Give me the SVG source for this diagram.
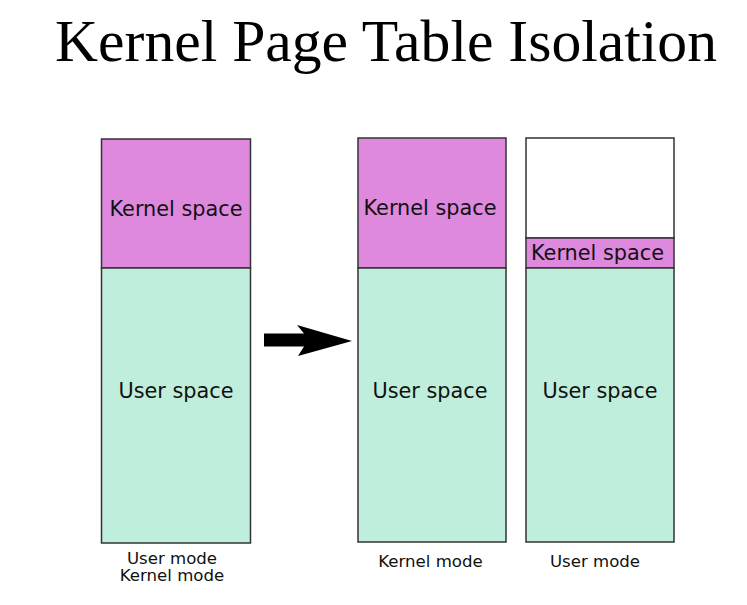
<svg xmlns="http://www.w3.org/2000/svg" width="747" height="605" viewBox="0 0 747 605">
<style>
.k{fill:#de88de;stroke:#333;stroke-width:1.5}
.u{fill:#c0eedd;stroke:#333;stroke-width:1.5}
.w{fill:#fff;stroke:#333;stroke-width:1.5}
.lbl{font-family:"DejaVu Sans",Verdana,sans-serif;font-size:20.8px;fill:#111;text-anchor:middle}
.cap{font-family:"DejaVu Sans",Verdana,sans-serif;font-size:16.6px;fill:#111;text-anchor:middle}
.title{font-family:"Liberation Serif","Times New Roman",serif;font-size:60px;fill:#000}
</style>
<rect width="747" height="605" fill="#fff"/>
<text class="title" x="55" y="61" textLength="662" lengthAdjust="spacingAndGlyphs">Kernel Page Table Isolation</text>
<g id="before">
<rect class="k" x="101.5" y="139" width="149" height="129"/>
<rect class="u" x="101.5" y="268" width="149" height="275"/>
<text class="lbl" x="176" y="216">Kernel space</text>
<text class="lbl" x="176" y="398">User space</text>
<text class="cap" x="172" y="564">User mode</text>
<text class="cap" x="172" y="581">Kernel mode</text>
</g>
<g id="after-kernel">
<rect class="k" x="358" y="138" width="148" height="130"/>
<rect class="u" x="358" y="268" width="148" height="274"/>
<text class="lbl" x="430" y="215">Kernel space</text>
<text class="lbl" x="430" y="398">User space</text>
<text class="cap" x="430.5" y="567">Kernel mode</text>
</g>
<g id="after-user">
<rect class="w" x="526" y="138" width="148" height="100"/>
<rect class="k" x="526" y="238" width="148" height="30"/>
<rect class="u" x="526" y="268" width="148" height="274"/>
<text class="lbl" x="597.5" y="260">Kernel space</text>
<text class="lbl" x="600" y="398">User space</text>
<text class="cap" x="595" y="567">User mode</text>
</g>
<g id="connectors">
<path d="M264,333.5 L304,333.5 L297,325 L352,341 L298,356 L304,346.5 L264,346.5 Z" fill="#000"/>
</g>
</svg>
